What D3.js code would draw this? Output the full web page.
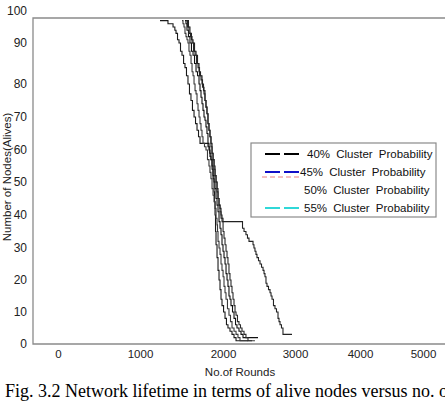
<!DOCTYPE html>
<html>
<head>
<meta charset="utf-8">
<script src="https://cdn.jsdelivr.net/npm/d3@7"></script>
<style>
  body { margin: 0; background: #fff; }
  svg { display: block; font-family: "Liberation Sans", Arial, sans-serif; }
</style>
</head>
<body>
<script>
// tick labels (as printed on the figure)
var xTicks = [0, 1000, 2000, 3000, 4000, 5000];
var yTicks = [0, 10, 20, 30, 40, 50, 60, 70, 80, 90, 100];

// alive nodes vs rounds: [round, alive]
var run1 = [[1241,97],[1337,96],[1398,95],[1420,94],[1434,93],[1452,91],[1470,90],[1488,88],[1506,87],[1525,85],[1542,84],[1560,82],[1578,80],[1596,77],[1614,75],[1632,72],[1651,70],[1669,68],[1687,66],[1705,64],[1723,62],[1819,61],[1840,59],[1855,57],[1868,54],[1880,51],[1892,47],[1898,44],[1904,40],[1910,35],[1916,31],[1928,27],[1940,23],[1952,20],[1964,17],[1976,14],[1988,12],[2008,10],[2028,8],[2048,6],[2069,5],[2097,4],[2125,3],[2153,2],[2181,1],[2347,1]];
var run2 = [[1506,97],[1518,96],[1530,95],[1542,93],[1554,92],[1566,91],[1578,90],[1590,88],[1602,87],[1615,85],[1627,83],[1639,82],[1651,80],[1663,78],[1675,77],[1687,74],[1699,72],[1711,70],[1723,68],[1735,66],[1747,64],[1759,62],[1777,61],[1795,60],[1813,57],[1831,55],[1843,53],[1855,51],[1868,48],[1880,46],[1892,44],[1904,42],[1916,39],[1928,37],[1934,35],[1940,32],[1952,30],[1964,28],[1976,25],[1988,23],[2001,21],[2014,18],[2028,16],[2042,14],[2062,11],[2083,9],[2104,7],[2125,5],[2153,4],[2181,3],[2208,2],[2236,1],[2444,1]];
var run3 = [[1542,97],[1554,96],[1566,94],[1584,92],[1602,90],[1620,88],[1639,87],[1657,85],[1675,83],[1693,82],[1711,80],[1723,78],[1735,76],[1747,74],[1759,72],[1771,70],[1783,69],[1795,67],[1807,65],[1819,62],[1831,60],[1843,58],[1855,57],[1868,55],[1880,52],[1892,50],[1904,48],[1916,45],[1928,43],[1940,41],[1952,38],[1964,36],[1976,34],[1988,31],[2000,29],[2014,27],[2028,25],[2042,22],[2056,20],[2069,18],[2083,15],[2097,14],[2111,12],[2132,10],[2153,8],[2174,6],[2194,5],[2222,4],[2250,3],[2278,2],[2486,2]];
var run4 = [[1554,97],[1572,95],[1590,93],[1608,92],[1627,90],[1645,88],[1663,87],[1681,85],[1699,84],[1717,82],[1735,81],[1753,79],[1771,77],[1783,75],[1795,73],[1807,71],[1819,68],[1831,66],[1843,64],[1855,61],[1868,59],[1880,57],[1892,54],[1904,52],[1916,50],[1928,47],[1940,45],[1952,43],[1964,41],[1976,39],[1988,38],[2001,35],[2014,33],[2028,31],[2042,29],[2056,27],[2069,25],[2083,22],[2097,20],[2111,18],[2125,16],[2139,14],[2153,12],[2167,10],[2181,9],[2201,7],[2222,6],[2243,5],[2264,4],[2292,3],[2319,2],[2347,1],[2403,1]];
var run5 = [[1566,97],[1584,95],[1602,93],[1620,91],[1639,90],[1657,88],[1675,87],[1693,85],[1711,83],[1729,82],[1747,80],[1765,78],[1783,75],[1795,73],[1807,71],[1819,68],[1831,66],[1843,64],[1855,62],[1868,59],[1880,57],[1892,55],[1904,52],[1916,50],[1928,48],[1940,45],[1952,43],[1964,42],[1976,40],[1988,39],[2000,38],[2271,36],[2292,35],[2319,34],[2340,33],[2361,32],[2417,31],[2430,30],[2444,29],[2458,28],[2472,27],[2493,26],[2514,25],[2535,24],[2556,23],[2570,22],[2583,21],[2597,19],[2611,18],[2632,17],[2653,16],[2667,15],[2681,14],[2701,12],[2722,11],[2743,10],[2764,8],[2778,7],[2792,6],[2812,5],[2833,3],[2958,3]];

var legendLabels = ["40% Cluster Probability", "45% Cluster Probability", "50% Cluster Probability", "55% Cluster Probability"];

var runs = [run1, run2, run3, run4, run5];
var runColors = ["#1a1a1a", "#3a3a3a", "#111", "#2a2a2a", "#222"];
var legendColors = ["#000", "#1010c8", "#fff", "#30d8d8"];

var width = 445, height = 406;
var plotLeft = 33, plotTop = 18, plotBottom = 344, plotRight = 445;

var svg = d3.select("body").append("svg")
    .attr("width", width)
    .attr("height", height);

// tick labels on the figure are unevenly spaced, so use piecewise scales
var x = d3.scaleLinear()
    .domain(xTicks)
    .range([58, 140, 223, 295, 360, 423]);

var y = d3.scaleLinear()
    .domain(yTicks)
    .range([344, 312, 280, 248, 215, 182, 150, 117, 84, 43, 11]);

// frame
svg.append("path")
    .attr("d", "M" + plotRight + "," + plotTop + "H" + plotLeft + "V" + plotBottom + "H" + plotRight)
    .attr("fill", "none")
    .attr("stroke", "#8a8a8a")
    .attr("stroke-width", 1.3);

var xAxis = d3.axisBottom(x).tickValues(xTicks).tickSize(0).tickPadding(6).tickFormat(d3.format("d"));
var yAxis = d3.axisLeft(y).tickValues(yTicks).tickSize(0).tickPadding(6);

var gx = svg.append("g")
    .attr("transform", "translate(0," + plotBottom + ")")
    .call(xAxis);
gx.select(".domain").remove();
gx.selectAll("text").attr("font-size", 11.5).attr("fill", "#222").attr("font-family", null);

var gy = svg.append("g")
    .attr("transform", "translate(" + plotLeft + ",0)")
    .call(yAxis);
gy.select(".domain").remove();
gy.selectAll("text").attr("font-size", 12).attr("fill", "#222").attr("font-family", null);

// curves
var line = d3.line()
    .x(function (d) { return x(d[0]); })
    .y(function (d) { return y(d[1]); })
    .curve(d3.curveStepAfter);

svg.selectAll(".run")
    .data(runs)
    .enter().append("path")
    .attr("class", "run")
    .attr("d", line)
    .attr("fill", "none")
    .attr("stroke", function (d, i) { return runColors[i]; })
    .attr("stroke-width", 1.1);

// legend
var legend = svg.append("g").attr("transform", "translate(251,143)");
legend.append("rect")
    .attr("width", 185)
    .attr("height", 74)
    .attr("fill", "#fff")
    .attr("stroke", "#8a8a8a")
    .attr("stroke-width", 1.2);

var rows = legend.selectAll(".row")
    .data(legendLabels)
    .enter().append("g")
    .attr("class", "row")
    .attr("transform", function (d, i) { return "translate(0," + (11 + i * 18) + ")"; });

rows.append("line")
    .attr("x1", 14).attr("x2", 48)
    .attr("stroke", function (d, i) { return legendColors[i]; })
    .attr("stroke-width", 1.8)
    .attr("stroke-dasharray", "15,4");

// thin red dashed line sitting under the 45% entry
legend.append("line")
    .attr("x1", 11).attr("x2", 48)
    .attr("y1", 34).attr("y2", 34)
    .attr("stroke", "#e88080")
    .attr("stroke-width", 1)
    .attr("stroke-dasharray", "5,3");

rows.append("text")
    .attr("x", function (d, i) { return [56, 49, 53, 53][i]; })
    .attr("dy", "0.35em")
    .attr("font-size", 11.5)
    .attr("fill", "#111")
    .attr("word-spacing", 3)
    .text(function (d) { return d; });

// axis titles
svg.append("text")
    .attr("x", 240).attr("y", 376)
    .attr("text-anchor", "middle")
    .attr("font-size", 11.5)
    .attr("fill", "#222")
    .text("No.of Rounds");

svg.append("text")
    .attr("transform", "translate(11,177) rotate(-90)")
    .attr("text-anchor", "middle")
    .attr("font-size", 11.5)
    .attr("fill", "#222")
    .text("Number of Nodes(Alives)");

// caption (runs past the right edge, as in the source figure)
svg.append("text")
    .attr("x", 5).attr("y", 397)
    .attr("font-family", "'Liberation Serif', 'Times New Roman', serif")
    .attr("font-size", 18)
    .attr("fill", "#000")
    .text("Fig. 3.2 Network lifetime in terms of alive nodes versus no. of rounds");
</script>
</body>
</html>
